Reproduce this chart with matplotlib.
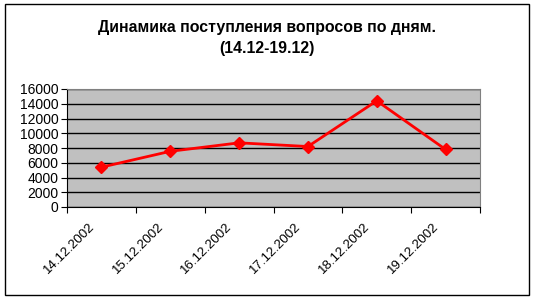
import matplotlib
matplotlib.use("Agg")
import matplotlib.pyplot as plt
from matplotlib.patches import Rectangle
from matplotlib.transforms import ScaledTranslation

categories = ["14.12.2002", "15.12.2002", "16.12.2002", "17.12.2002", "18.12.2002", "19.12.2002"]
values = [5400, 7550, 8700, 8200, 14400, 7800]
yticks = [0, 2000, 4000, 6000, 8000, 10000, 12000, 14000, 16000]

plt.rcParams['font.family'] = ['Liberation Sans', 'DejaVu Sans']

fig = plt.figure(figsize=(5.34, 3.0), dpi=100)
fig.patch.set_facecolor('white')
fig.patches.append(Rectangle((5/534, 1 - 295/300), 524/534, 291/300, transform=fig.transFigure,
                             fill=False, edgecolor='black', linewidth=1.0))

ax = fig.add_axes([67/534, 1 - 207/300, 413/534, 118/300])
ax.set_facecolor('#C0C0C0')
x = list(range(len(categories)))
ax.plot(x, values, color='#FF0000', linewidth=2, marker='D', markersize=6,
        markerfacecolor='#FF0000', markeredgecolor='#FF0000', zorder=3)
ax.set_xlim(-0.5, len(categories) - 0.5)
ax.set_ylim(0, 16000)
ax.set_yticks(yticks)
ax.set_yticklabels([str(v) for v in yticks], fontsize=10)
ax.yaxis.grid(True, color='black', linewidth=1)
ax.set_axisbelow(True)
ax.set_xticks([i - 0.5 for i in range(len(categories) + 1)])
ax.set_xticklabels([])
ax.set_xticks(x, minor=True)
ax.set_xticklabels(categories, minor=True, rotation=45, ha='right', va='top', fontsize=9.5,
                   rotation_mode='anchor')
ax.tick_params(axis='x', which='minor', length=0, pad=10)
ax.tick_params(axis='x', which='major', length=4, direction='out', color='black')
ax.tick_params(axis='y', length=4, direction='out', color='black', pad=2)
shift = ScaledTranslation(-13/100, 0, fig.dpi_scale_trans)
for lbl in ax.get_xticklabels(minor=True):
    lbl.set_transform(lbl.get_transform() + shift)
for s in ['top', 'right']:
    ax.spines[s].set_color('#808080')
for s in ['left', 'bottom']:
    ax.spines[s].set_color('black')

fig.text(0.5, 1 - 27.5/300, "Динамика поступления вопросов по дням.", ha='center', va='center',
         fontsize=11.4, fontweight='bold')
fig.text(0.5, 1 - 48/300, "(14.12-19.12)", ha='center', va='center',
         fontsize=11.4, fontweight='bold')

fig.savefig("out.png", dpi=100)
